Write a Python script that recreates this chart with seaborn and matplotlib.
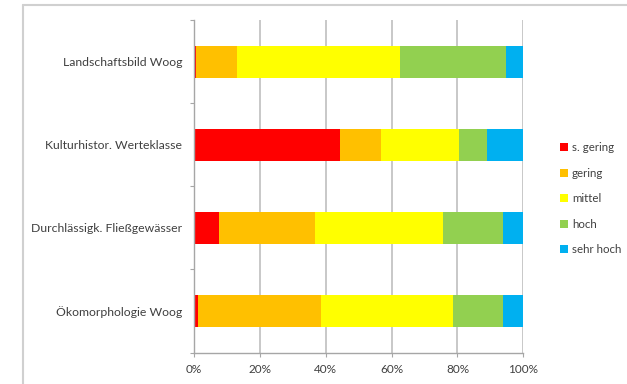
import matplotlib
matplotlib.use('Agg')
import matplotlib.pyplot as plt
import seaborn as sns
import pandas as pd
from matplotlib.patches import Patch
from matplotlib.lines import Line2D

categories = ["Landschaftsbild Woog", "Kulturhistor. Werteklasse",
              "Durchlässigk. Fließgewässer", "Ökomorphologie Woog"]
levels = ["s. gering", "gering", "mittel", "hoch", "sehr hoch"]
s_gering = [0.7, 44.3, 7.6, 1.3]
gering = [12.3, 12.5, 29.2, 37.4]
mittel = [49.6, 23.6, 38.9, 39.9]
hoch = [32.1, 8.5, 18.1, 15.2]
sehr_hoch = [5.3, 11.1, 6.2, 6.2]
xticks = [0, 20, 40, 60, 80, 100]
xtick_labels = ["0%", "20%", "40%", "60%", "80%", "100%"]
colors = ["#FF0000", "#FFC000", "#FFFF00", "#92D050", "#00B0F0"]

df = pd.DataFrame({"Kategorie": categories, "s. gering": s_gering, "gering": gering,
                   "mittel": mittel, "hoch": hoch, "sehr hoch": sehr_hoch})
cum = df[levels].cumsum(axis=1)

sns.set_theme(style="white")
plt.rcParams['font.family'] = ['Lato', 'DejaVu Sans']
text_color = "#404040"

fig = plt.figure(figsize=(6.27, 3.84), dpi=100)
ax = fig.add_axes([194 / 627, 1 - 352.5 / 384, (523.3 - 194) / 627, (352.5 - 20) / 384])

for lev, col in reversed(list(zip(levels, colors))):
    sns.barplot(x=cum[lev], y=df["Kategorie"], color=col, width=0.384, ax=ax,
                orient='h', saturation=1, linewidth=0, errorbar=None)

ax.set_xlim(0, 100)
ax.set_ylim(3.5, -0.5)
ax.set_xticks(xticks)
ax.set_xticklabels(xtick_labels)
ax.set_xlabel("")
ax.set_ylabel("")
ax.set_yticks(range(len(categories)))
ax.set_yticklabels(categories)
ax.set_yticks([-0.5, 0.5, 1.5, 2.5, 3.5], minor=True)
ax.tick_params(axis='y', which='major', length=0, pad=8.5, labelsize=8.8, labelcolor=text_color)
ax.tick_params(axis='y', which='minor', length=3, width=0.8, color='#a6a6a6', left=True)
ax.tick_params(axis='x', which='major', length=3, width=0.8, color='#a6a6a6', bottom=True,
               pad=5.5, labelsize=8.5, labelcolor=text_color)
ax.xaxis.grid(True, color='#bfbfbf', lw=1.2)
ax.yaxis.grid(False)
ax.set_axisbelow(True)
for s in ['top', 'right']:
    ax.spines[s].set_visible(False)
for s in ['left', 'bottom']:
    ax.spines[s].set_color('#a6a6a6')
    ax.spines[s].set_linewidth(1.0)

# outer chart frame
fig.add_artist(Line2D([23 / 627, 23 / 627], [0, 1 - 5 / 384], color='#d0d0d0', lw=1.5))
fig.add_artist(Line2D([23 / 627, 1], [1 - 5 / 384, 1 - 5 / 384], color='#d0d0d0', lw=1.5))

handles = [Patch(facecolor=c, edgecolor='none', label=l) for l, c in zip(levels, colors)]
fig.legend(handles=handles, loc='upper left', bbox_to_anchor=(550 / 627, 1 - 132 / 384),
           frameon=False, fontsize=8.3, handlelength=0.7, handleheight=0.7,
           handletextpad=0.3, labelspacing=1.25, labelcolor=text_color)

fig.savefig("out.png", dpi=100)
